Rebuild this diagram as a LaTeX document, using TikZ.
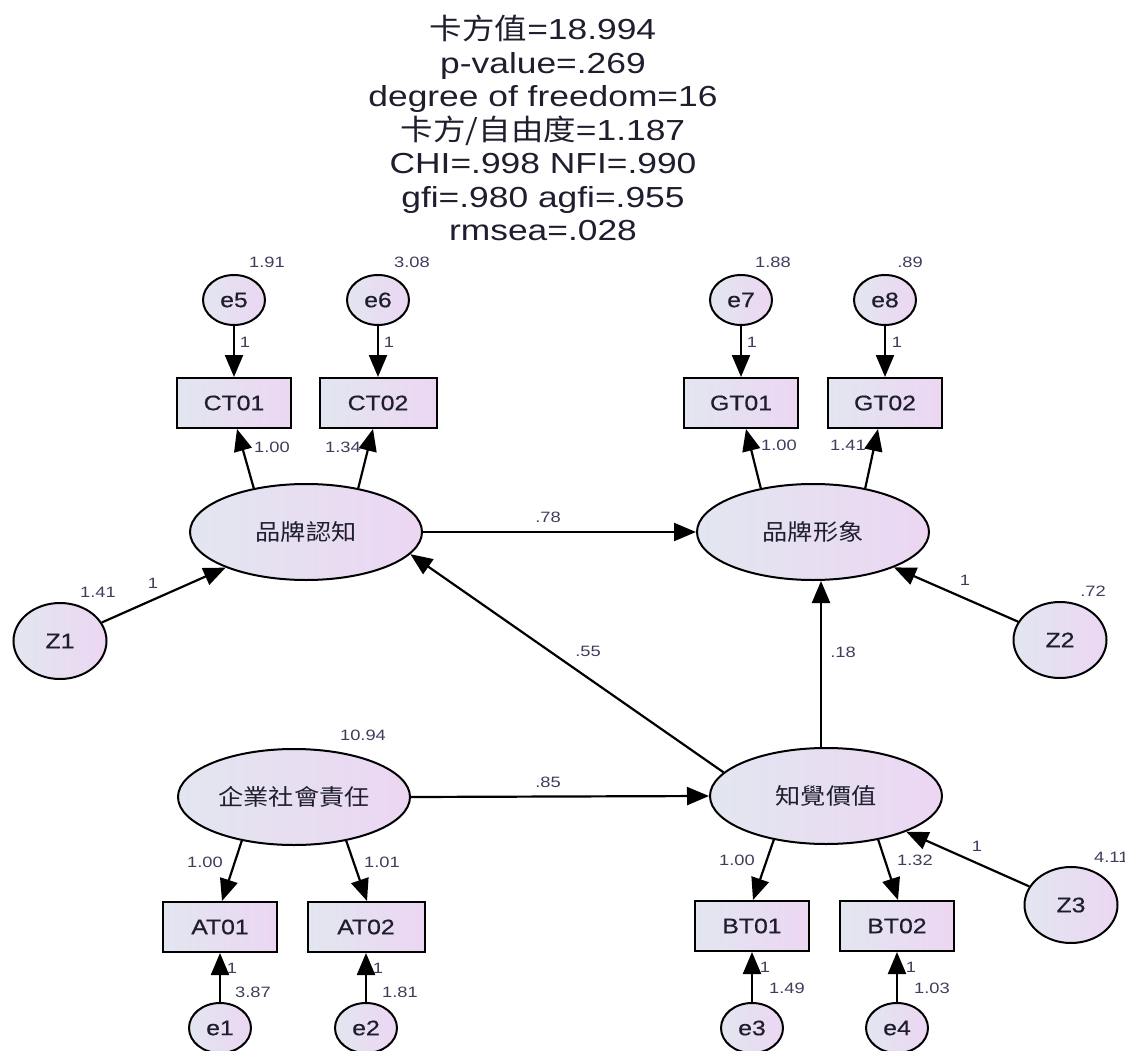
\documentclass[tikz,border=0pt]{standalone}
\usepackage{fontspec}
\setmainfont{Liberation Sans}[FakeStretch=1.22]
\newfontfamily\nodefont{Liberation Sans}[FakeStretch=1.18, FakeBold=0.6]
\newfontfamily\cjk{Noto Sans CJK TC}[FakeStretch=1.12]
\usetikzlibrary{arrows.meta,shapes.geometric}

\definecolor{gradleft}{RGB}{226,230,240}
\definecolor{gradright}{RGB}{236,214,242}
\definecolor{labelgray}{RGB}{62,62,92}
\definecolor{textdark}{RGB}{30,30,46}

\tikzset{
  fillgrad/.style={left color=gradleft, right color=gradright, draw=black, line width=2pt},
  obsbox/.style={fillgrad, rectangle, minimum width=114, minimum height=50, inner sep=0,
    text=textdark, font=\nodefont\fontsize{21}{24}\selectfont},
  latent/.style={fillgrad, ellipse, minimum width=232, minimum height=96, inner sep=0,
    text=textdark, font=\cjk\fontsize{22.5}{26}\selectfont},
  errnode/.style={fillgrad, ellipse, minimum width=62, minimum height=50, inner sep=0,
    text=textdark, font=\nodefont\fontsize{21}{24}\selectfont},
  distnode/.style={fillgrad, ellipse, minimum width=93, minimum height=76, inner sep=0,
    text=textdark, font=\nodefont\fontsize{21}{24}\selectfont},
  arr/.style={-{Triangle[length=22pt,width=18pt]}, line width=2.2pt},
  lbl/.style={inner sep=0, text=labelgray, font=\fontsize{15}{17}\selectfont},
}

\begin{document}
\begin{tikzpicture}[x=1pt, y=-1pt]
\useasboundingbox (0,0) rectangle (1125,1051);

% fit statistics
\node[align=center, text=textdark, font=\fontsize{29}{33.5}\selectfont] (title) at (543,128)
  {{\cjk 卡方值}=18.994\\p-value=.269\\degree of freedom=16\\{\cjk 卡方/自由度}=1.187\\CHI=.998 NFI=.990\\gfi=.980 agfi=.955\\rmsea=.028};

% latent variables
\node[latent] (pc) at (306,532) {品牌認知};
\node[latent] (pg) at (813,532) {品牌形象};
\node[latent] (cs) at (294,797) {企業社會責任};
\node[latent] (pv) at (826,796) {知覺價值};

% indicators
\node[obsbox] (ct1) at (234,403) {CT01};
\node[obsbox, minimum width=117] (ct2) at (378,403) {CT02};
\node[obsbox] (gt1) at (741,403) {GT01};
\node[obsbox] (gt2) at (885,403) {GT02};
\node[obsbox] (at1) at (220,927) {AT01};
\node[obsbox, minimum width=117] (at2) at (366,927) {AT02};
\node[obsbox] (bt1) at (752,926) {BT01};
\node[obsbox] (bt2) at (897,926) {BT02};

% measurement errors
\node[errnode] (e5) at (234,300) {e5};
\node[errnode] (e6) at (378,300) {e6};
\node[errnode] (e7) at (741,300) {e7};
\node[errnode] (e8) at (885,300) {e8};
\node[errnode] (e1) at (220,1028) {e1};
\node[errnode] (e2) at (366,1028) {e2};
\node[errnode] (e3) at (752,1028) {e3};
\node[errnode] (e4) at (897,1028) {e4};

% disturbances
\node[distnode] (z1) at (60,641) {Z1};
\node[distnode] (z2) at (1060,640) {Z2};
\node[distnode] (z3) at (1071,905) {Z3};

% error paths
\draw[arr] (e5) -- (ct1);
\draw[arr] (e6) -- (ct2);
\draw[arr] (e7) -- (gt1);
\draw[arr] (e8) -- (gt2);
\draw[arr] (e1) -- (at1);
\draw[arr] (e2) -- (at2);
\draw[arr] (e3) -- (bt1);
\draw[arr] (e4) -- (bt2);

% loadings
\draw[arr] (pc.140) -- ([xshift=3]ct1.south);
\draw[arr] (pc.40) -- ([xshift=-5]ct2.south);
\draw[arr] (pg.140) -- ([xshift=5]gt1.south);
\draw[arr] (pg.40) -- ([xshift=-7]gt2.south);
\draw[arr] (cs.220) -- ([xshift=2]at1.north);
\draw[arr] (cs.320) -- ([xshift=1]at2.north);
\draw[arr] (pv.220) -- ([xshift=1]bt1.north);
\draw[arr] (pv.320) -- ([xshift=1]bt2.north);

% structural paths
\coordinate (vx) at (821,0);
\draw[arr] (pc.east) -- (pg.west);
\draw[arr] (cs.east) -- (pv.west);
\draw[arr] (pv.167) -- (pc.348);
\draw[arr] (pv.north -| vx) -- (pg.south -| vx);
\draw[arr] (z1) -- (pc);
\draw[arr] (z2) -- (pg);
\draw[arr] (z3) -- (pv);

% variances
\node[lbl] (v5) at (267,262) {1.91};
\node[lbl] (v6) at (412,262) {3.08};
\node[lbl] (v7) at (773,262) {1.88};
\node[lbl] (v8) at (910,262) {.89};
\node[lbl] (vz1) at (98,592) {1.41};
\node[lbl] (vz2) at (1093,591) {.72};
\node[lbl, anchor=west] (vz3) at (1094,857) {4.11};
\node[lbl] (vcs) at (363,735) {10.94};
\node[lbl] (v1) at (253,992) {3.87};
\node[lbl] (v2) at (400,992) {1.81};
\node[lbl] (v3) at (787,988) {1.49};
\node[lbl] (v4) at (932,988) {1.03};

% fixed error weights
\node[lbl] (w5) at (245,342) {1};
\node[lbl] (w6) at (389,342) {1};
\node[lbl] (w7) at (752,342) {1};
\node[lbl] (w8) at (897,342) {1};
\node[lbl] (w1) at (232,968) {1};
\node[lbl] (w2) at (378,968) {1};
\node[lbl] (w3) at (765,967) {1};
\node[lbl] (w4) at (911,967) {1};
\node[lbl] (wz1) at (153,583) {1};
\node[lbl] (wz2) at (965,580) {1};
\node[lbl] (wz3) at (977,846) {1};

% path coefficients
\node[lbl] (l1) at (272,447) {1.00};
\node[lbl] (l2) at (343,447) {1.34};
\node[lbl] (l3) at (779,445) {1.00};
\node[lbl] (l4) at (848,445) {1.41};
\node[lbl] (l5) at (205,862) {1.00};
\node[lbl] (l6) at (382,862) {1.01};
\node[lbl] (l7) at (737,860) {1.00};
\node[lbl] (l8) at (915,860) {1.32};
\node[lbl] (b1) at (548,517) {.78};
\node[lbl] (b2) at (588,651) {.55};
\node[lbl] (b3) at (843,652) {.18};
\node[lbl] (b4) at (548,782) {.85};
\end{tikzpicture}
\end{document}
